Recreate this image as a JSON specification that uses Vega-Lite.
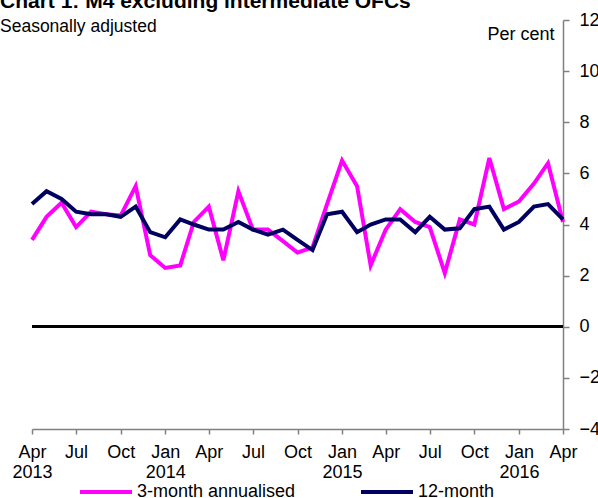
{
  "$schema": "https://vega.github.io/schema/vega-lite/v6.json",
  "autosize": {"type": "none"},
  "width": 531,
  "height": 409,
  "padding": {"left": 32, "top": 20, "right": 35, "bottom": 69},
  "background": "white",
  "title": {
    "text": "Chart 1: M4 excluding intermediate OFCs",
    "subtitle": "Seasonally adjusted",
    "anchor": "start",
    "frame": "group",
    "dx": -32,
    "offset": -24,
    "font": "Liberation Sans",
    "fontSize": 21,
    "fontWeight": "bold",
    "color": "black",
    "subtitleFont": "Liberation Sans",
    "subtitleFontSize": 17.5,
    "subtitleColor": "black",
    "subtitlePadding": 6
  },
  "config": {
    "view": {"stroke": null},
    "font": "Liberation Sans",
    "axis": {
      "grid": false,
      "domainColor": "#808080",
      "domainWidth": 1.5,
      "tickColor": "#808080",
      "tickWidth": 1.5,
      "labelColor": "black",
      "labelFont": "Liberation Sans",
      "labelFontSize": 18,
      "titleFont": "Liberation Sans",
      "titleFontSize": 18,
      "titleFontWeight": "normal",
      "titleColor": "black"
    }
  },
  "data": {
    "values": [
      {"date": "2013-04-01", "series": "3-month annualised", "value": 3.4},
      {"date": "2013-05-01", "series": "3-month annualised", "value": 4.3},
      {"date": "2013-06-01", "series": "3-month annualised", "value": 4.85},
      {"date": "2013-07-01", "series": "3-month annualised", "value": 3.9},
      {"date": "2013-08-01", "series": "3-month annualised", "value": 4.5},
      {"date": "2013-09-01", "series": "3-month annualised", "value": 4.4},
      {"date": "2013-10-01", "series": "3-month annualised", "value": 4.35},
      {"date": "2013-11-01", "series": "3-month annualised", "value": 5.5},
      {"date": "2013-12-01", "series": "3-month annualised", "value": 2.8},
      {"date": "2014-01-01", "series": "3-month annualised", "value": 2.3},
      {"date": "2014-02-01", "series": "3-month annualised", "value": 2.4},
      {"date": "2014-03-01", "series": "3-month annualised", "value": 4.1},
      {"date": "2014-04-01", "series": "3-month annualised", "value": 4.7},
      {"date": "2014-05-01", "series": "3-month annualised", "value": 2.6},
      {"date": "2014-06-01", "series": "3-month annualised", "value": 5.3},
      {"date": "2014-07-01", "series": "3-month annualised", "value": 3.8},
      {"date": "2014-08-01", "series": "3-month annualised", "value": 3.8},
      {"date": "2014-09-01", "series": "3-month annualised", "value": 3.35},
      {"date": "2014-10-01", "series": "3-month annualised", "value": 2.9},
      {"date": "2014-11-01", "series": "3-month annualised", "value": 3.1},
      {"date": "2014-12-01", "series": "3-month annualised", "value": 4.8},
      {"date": "2015-01-01", "series": "3-month annualised", "value": 6.5},
      {"date": "2015-02-01", "series": "3-month annualised", "value": 5.5},
      {"date": "2015-03-01", "series": "3-month annualised", "value": 2.4},
      {"date": "2015-04-01", "series": "3-month annualised", "value": 3.8},
      {"date": "2015-05-01", "series": "3-month annualised", "value": 4.6},
      {"date": "2015-06-01", "series": "3-month annualised", "value": 4.1},
      {"date": "2015-07-01", "series": "3-month annualised", "value": 3.9},
      {"date": "2015-08-01", "series": "3-month annualised", "value": 2.1},
      {"date": "2015-09-01", "series": "3-month annualised", "value": 4.2},
      {"date": "2015-10-01", "series": "3-month annualised", "value": 4.0},
      {"date": "2015-11-01", "series": "3-month annualised", "value": 6.6},
      {"date": "2015-12-01", "series": "3-month annualised", "value": 4.6},
      {"date": "2016-01-01", "series": "3-month annualised", "value": 4.9},
      {"date": "2016-02-01", "series": "3-month annualised", "value": 5.6},
      {"date": "2016-03-01", "series": "3-month annualised", "value": 6.4},
      {"date": "2016-04-01", "series": "3-month annualised", "value": 4.1},
      {"date": "2013-04-01", "series": "12-month", "value": 4.8},
      {"date": "2013-05-01", "series": "12-month", "value": 5.3},
      {"date": "2013-06-01", "series": "12-month", "value": 5.0},
      {"date": "2013-07-01", "series": "12-month", "value": 4.5},
      {"date": "2013-08-01", "series": "12-month", "value": 4.4},
      {"date": "2013-09-01", "series": "12-month", "value": 4.4},
      {"date": "2013-10-01", "series": "12-month", "value": 4.3},
      {"date": "2013-11-01", "series": "12-month", "value": 4.7},
      {"date": "2013-12-01", "series": "12-month", "value": 3.7},
      {"date": "2014-01-01", "series": "12-month", "value": 3.5},
      {"date": "2014-02-01", "series": "12-month", "value": 4.2},
      {"date": "2014-03-01", "series": "12-month", "value": 4.0},
      {"date": "2014-04-01", "series": "12-month", "value": 3.8},
      {"date": "2014-05-01", "series": "12-month", "value": 3.8},
      {"date": "2014-06-01", "series": "12-month", "value": 4.1},
      {"date": "2014-07-01", "series": "12-month", "value": 3.8},
      {"date": "2014-08-01", "series": "12-month", "value": 3.6},
      {"date": "2014-09-01", "series": "12-month", "value": 3.8},
      {"date": "2014-10-01", "series": "12-month", "value": 3.4},
      {"date": "2014-11-01", "series": "12-month", "value": 3.0},
      {"date": "2014-12-01", "series": "12-month", "value": 4.4},
      {"date": "2015-01-01", "series": "12-month", "value": 4.5},
      {"date": "2015-02-01", "series": "12-month", "value": 3.7},
      {"date": "2015-03-01", "series": "12-month", "value": 4.0},
      {"date": "2015-04-01", "series": "12-month", "value": 4.2},
      {"date": "2015-05-01", "series": "12-month", "value": 4.2},
      {"date": "2015-06-01", "series": "12-month", "value": 3.7},
      {"date": "2015-07-01", "series": "12-month", "value": 4.3},
      {"date": "2015-08-01", "series": "12-month", "value": 3.8},
      {"date": "2015-09-01", "series": "12-month", "value": 3.85},
      {"date": "2015-10-01", "series": "12-month", "value": 4.6},
      {"date": "2015-11-01", "series": "12-month", "value": 4.7},
      {"date": "2015-12-01", "series": "12-month", "value": 3.8},
      {"date": "2016-01-01", "series": "12-month", "value": 4.1},
      {"date": "2016-02-01", "series": "12-month", "value": 4.7},
      {"date": "2016-03-01", "series": "12-month", "value": 4.8},
      {"date": "2016-04-01", "series": "12-month", "value": 4.2}
    ]
  },
  "encoding": {
    "x": {
      "field": "date",
      "type": "temporal",
      "scale": {
        "type": "utc",
        "domain": [
          {"year": 2013, "month": 4, "date": 1, "utc": true},
          {"year": 2016, "month": 4, "date": 1, "utc": true}
        ],
        "nice": false
      },
      "axis": {
        "title": null,
        "orient": "bottom",
        "tickCount": {"interval": "month", "step": 3},
        "tickSize": 5,
        "labelPadding": 9,
        "labelLineHeight": 20,
        "labelBaseline": "top",
        "labelOverlap": false,
        "labelFlush": false,
        "labelBound": false,
        "labelExpr": "(utcmonth(datum.value) == 0 || (utcmonth(datum.value) == 3 && utcyear(datum.value) == 2013)) ? [utcFormat(datum.value, '%b'), utcFormat(datum.value, '%Y')] : utcFormat(datum.value, '%b')"
      }
    },
    "y": {
      "field": "value",
      "type": "quantitative",
      "scale": {"domain": [-4, 12], "nice": false, "zero": false},
      "axis": {
        "orient": "right",
        "values": [-4, -2, 0, 2, 4, 6, 8, 10, 12],
        "tickSize": 6,
        "labelPadding": 10,
        "labelAlign": "left",
        "title": "Per cent",
        "titleAngle": 0,
        "titleAlign": "right",
        "titleBaseline": "alphabetic",
        "titleX": -9,
        "titleY": 19
      }
    }
  },
  "layer": [
    {
      "mark": {"type": "rule", "color": "black", "strokeWidth": 2},
      "encoding": {"y": {"datum": 0}, "x": null}
    },
    {
      "mark": {"type": "line", "strokeWidth": 4, "strokeJoin": "miter"},
      "encoding": {
        "color": {
          "field": "series",
          "type": "nominal",
          "scale": {
            "domain": ["3-month annualised", "12-month"],
            "range": ["#ff00ff", "#000060"]
          },
          "legend": {
            "title": null,
            "orient": "none",
            "legendX": 46,
            "legendY": 444,
            "direction": "horizontal",
            "symbolType": "stroke",
            "symbolSize": 2704,
            "symbolStrokeWidth": 4,
            "labelFont": "Liberation Sans",
            "labelFontSize": 18,
            "labelColor": "black",
            "labelOffset": 3,
            "columnPadding": 57,
            "padding": 0
          }
        }
      }
    }
  ]
}
